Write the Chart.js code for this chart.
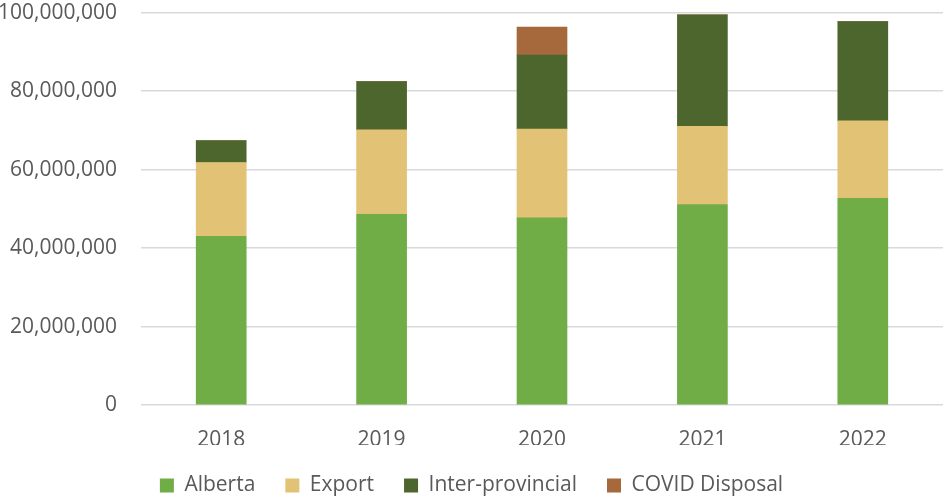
<!DOCTYPE html>
<html>
<head>
<meta charset="utf-8">
<script src="https://cdn.jsdelivr.net/npm/chart.js@4"></script>
<style>
  html, body { margin: 0; padding: 0; background: #fff; }
  #wrap { width: 943px; height: 497px; position: relative; }
</style>
</head>
<body>
<div id="wrap"><canvas id="c"></canvas></div>
<script>
// 年份
const years = ['2018', '2019', '2020', '2021', '2022'];
// 各系列数值
const alberta = [43000000, 48600000, 47700000, 51100000, 52700000];
const exportVals = [18800000, 21500000, 22600000, 19900000, 19700000];
const interProvincial = [5600000, 12300000, 18900000, 28400000, 25300000];
const covidDisposal = [0, 0, 7100000, 0, 0];
const yTicks = [0, 20000000, 40000000, 60000000, 80000000, 100000000];

const fontFamily = '"Open Sans", "Noto Sans", sans-serif';

const ctx = document.getElementById('c').getContext('2d');
new Chart(ctx, {
    type: 'bar',
    data: {
        labels: years,
        datasets: [
            { label: 'Alberta', data: alberta, backgroundColor: '#70AD47' },
            { label: 'Export', data: exportVals, backgroundColor: '#E2C275' },
            { label: 'Inter-provincial', data: interProvincial, backgroundColor: '#4D662E' },
            { label: 'COVID Disposal', data: covidDisposal, backgroundColor: '#A5693B' }
        ]
    },
    options: {
        responsive: true,
        maintainAspectRatio: false,
        animation: false,
        datasets: {
            bar: { barThickness: 50 }
        },
        layout: { padding: { top: 0, right: 0, left: 0, bottom: -9 } },
        plugins: {
            legend: {
                position: 'bottom',
                labels: {
                    boxWidth: 14,
                    boxHeight: 14,
                    padding: 30,
                    color: '#595959',
                    font: { family: fontFamily, size: 21 }
                }
            },
            tooltip: { enabled: false }
        },
        scales: {
            x: {
                stacked: true,
                clip: false,
                grid: { display: false, drawTicks: false },
                border: { display: false },
                ticks: {
                    color: '#595959',
                    padding: 22,
                    font: { family: fontFamily, size: 21 }
                },
                afterFit: function(scale) {
                    scale.height = 40;
                }
            },
            y: {
                stacked: true,
                clip: false,
                min: 0,
                max: 100000000,
                afterBuildTicks: function(scale) {
                    scale.ticks = yTicks.map(v => ({ value: v }));
                },
                afterFit: function(scale) {
                    scale.width = 141;
                },
                grid: {
                    color: '#D9D9D9',
                    lineWidth: 1.5,
                    drawTicks: true,
                    tickLength: 24,
                    tickColor: 'rgba(0,0,0,0)'
                },
                border: { display: false },
                ticks: {
                    color: '#595959',
                    padding: 0,
                    font: { family: fontFamily, size: 21 },
                    callback: function(value) {
                        return value.toLocaleString('en-US');
                    }
                }
            }
        }
    }
});
</script>
</body>
</html>
